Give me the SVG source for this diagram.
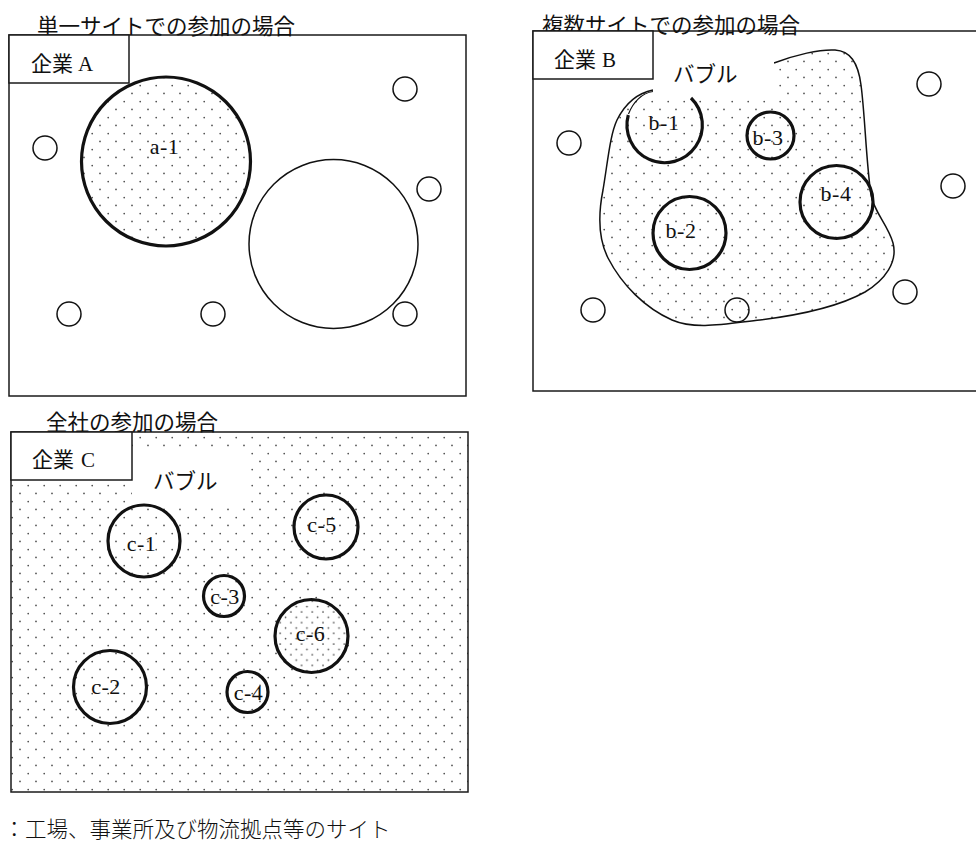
<svg xmlns="http://www.w3.org/2000/svg" width="976" height="844" viewBox="0 0 976 844">
<defs>
<pattern id="dots" patternUnits="userSpaceOnUse" x="0" y="0" width="16" height="16">
<circle cx="4" cy="13.4" r="0.85" fill="#4a4a4a"/>
<circle cx="12.2" cy="5.6" r="0.85" fill="#4a4a4a"/>
</pattern>
<pattern id="dense" patternUnits="userSpaceOnUse" x="0" y="0" width="10.7" height="10.7">
<rect width="10.7" height="10.7" fill="#fff"/>
<circle cx="2" cy="2" r="0.85" fill="#4a4a4a"/>
<circle cx="7.35" cy="7.35" r="0.85" fill="#4a4a4a"/>
</pattern>
</defs>
<style>
.frame{fill:#fff;stroke:#1a1a1a;stroke-width:1.5}
.tag{fill:#fff;stroke:#1a1a1a;stroke-width:1.5}
.site{fill:none;stroke:#111;stroke-width:1.5}
.part{fill:none;stroke:#111;stroke-width:3.2}
.title{font-family:"Noto Sans CJK JP","Noto Sans",sans-serif;font-size:21.5px;fill:#111}
.corp{font-family:"Liberation Serif","Noto Sans CJK JP",serif;font-size:21px;fill:#111}
.lbl{font-family:"Liberation Serif","Noto Sans CJK JP",serif;font-size:22px;fill:#111;text-anchor:middle;letter-spacing:0.5px}
.bub{font-family:"Noto Sans CJK JP","Noto Sans",sans-serif;font-size:21.5px;fill:#111}
.note{font-family:"Noto Sans CJK JP",serif;font-size:21.5px;font-weight:300;fill:#111}
</style>

<!-- Panel A -->
<g id="panelA">
<rect class="frame" x="9" y="35" width="457" height="361"/>
<text class="title" x="37" y="34">単一サイトでの参加の場合</text>
<g id="tagA">
<rect class="tag" x="9" y="35" width="120" height="48"/>
<text class="corp" x="31" y="71">企業<tspan x="78">A</tspan></text>
</g>
<g id="a1">
<circle cx="166" cy="161.5" r="84.5" fill="url(#dots)" stroke="#111" stroke-width="3.2"/>
<text class="lbl" x="164.5" y="154">a-1</text>
</g>
<g id="a-big"><circle class="site" cx="333.5" cy="244" r="84.5"/></g>
<g id="a-sites">
<circle class="site" cx="405" cy="89" r="12"/>
<circle class="site" cx="45" cy="148" r="12"/>
<circle class="site" cx="429" cy="189" r="12"/>
<circle class="site" cx="69" cy="314" r="12"/>
<circle class="site" cx="213" cy="314" r="12"/>
<circle class="site" cx="405" cy="314" r="12"/>
</g>
</g>

<!-- Panel B -->
<g id="panelB">
<rect class="frame" x="533" y="31" width="470" height="360"/>
<text class="title" x="542" y="33">複数サイトでの参加の場合</text>
<g id="bubbleB">
<path d="M 774,63 C 795,55 820,49 835,50 C 850,51 858,62 861,85 C 865,115 866,160 871,195 C 874,212 888,225 893,243 C 898,262 885,280 865,292 C 840,306 800,315 760,320 C 725,324 695,330 672,320 C 645,308 622,285 608,258 C 598,238 598,215 603,190 C 608,160 610,135 617,120 C 626,102 638,93 653,90" fill="url(#dots)" stroke="#111" stroke-width="1.5"/>
<path d="M 653,91.5 C 642,93 633,102 628.5,114" fill="none" stroke="#111" stroke-width="1.2"/>
<rect x="653" y="44" width="121" height="53" fill="#fff"/>
<text class="bub" x="673" y="82">バブル</text>
</g>
<g id="tagB">
<rect class="tag" x="533" y="31" width="120" height="48"/>
<text class="corp" x="554" y="67">企業<tspan x="602">B</tspan></text>
</g>
<g id="b1">
<path d="M 628.3,115 A 37.7 37.7 0 1 0 691,98" class="part"/>
<text class="lbl" x="664" y="130">b-1</text>
</g>
<g id="b2">
<circle class="part" cx="689.5" cy="233" r="36.5"/>
<text class="lbl" x="681" y="238">b-2</text>
</g>
<g id="b3">
<circle class="part" cx="770.5" cy="135.5" r="23.5"/>
<text class="lbl" x="768" y="145">b-3</text>
</g>
<g id="b4">
<circle class="part" cx="836.5" cy="202" r="36.5"/>
<text class="lbl" x="836" y="201">b-4</text>
</g>
<g id="b-sites">
<circle class="site" cx="929" cy="84" r="12"/>
<circle class="site" cx="569" cy="143" r="12"/>
<circle class="site" cx="953" cy="186" r="12"/>
<circle class="site" cx="593" cy="310" r="12"/>
<circle class="site" cx="737" cy="310" r="12"/>
<circle class="site" cx="905" cy="292" r="12"/>
</g>
</g>

<!-- Panel C -->
<g id="panelC">
<rect x="11" y="432" width="457" height="360" fill="url(#dots)" stroke="#1a1a1a" stroke-width="1.5"/>
<text class="title" x="46" y="429.5">全社の参加の場合</text>
<g id="bubbleC">
<rect x="132" y="448" width="119" height="57" fill="#fff"/>
<text class="bub" x="153" y="489">バブル</text>
</g>
<g id="tagC">
<rect class="tag" x="11" y="432" width="121" height="48"/>
<text class="corp" x="32" y="467">企業<tspan x="81">C</tspan></text>
</g>
<g id="c1">
<circle class="part" cx="144" cy="541" r="36"/>
<text class="lbl" x="141.5" y="550.5">c-1</text>
</g>
<g id="c2">
<circle class="part" cx="110" cy="687" r="36.5"/>
<text class="lbl" x="106" y="694">c-2</text>
</g>
<g id="c3">
<circle class="part" cx="224" cy="596" r="20.5"/>
<text class="lbl" x="225" y="604">c-3</text>
</g>
<g id="c4">
<circle class="part" cx="247.5" cy="692" r="20.5"/>
<text class="lbl" x="248.5" y="700">c-4</text>
</g>
<g id="c5">
<circle class="part" cx="326" cy="527" r="32"/>
<text class="lbl" x="322" y="532">c-5</text>
</g>
<g id="c6">
<circle cx="311.5" cy="636" r="36.5" fill="url(#dense)" stroke="#111" stroke-width="3.2"/>
<text class="lbl" x="310.5" y="641">c-6</text>
</g>
</g>

<g id="connectors"></g>

<text class="note" x="3.5" y="837">：工場、事業所及び物流拠点等のサイト</text>
</svg>
